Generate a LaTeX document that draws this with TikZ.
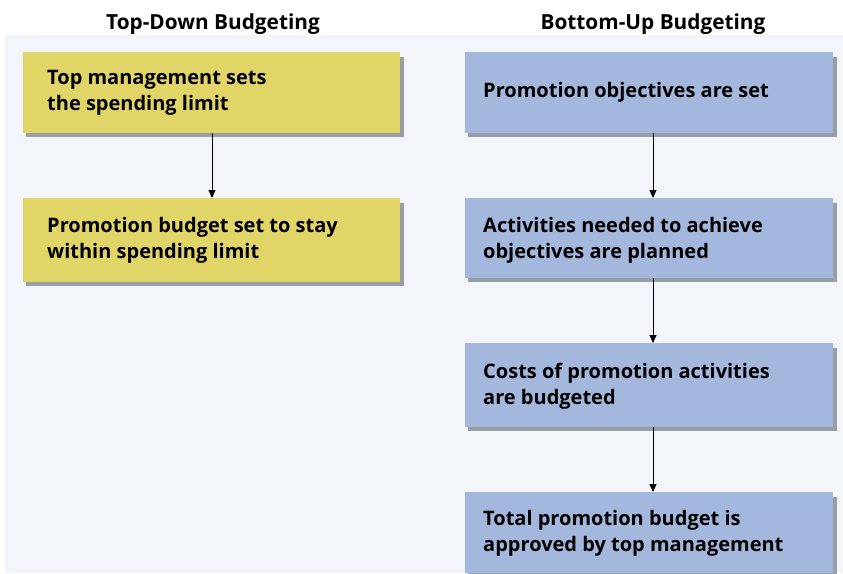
\documentclass[tikz,border=0pt]{standalone}
\usepackage{fontspec}
\setmainfont{Open Sans}
\usetikzlibrary{arrows.meta}
\definecolor{panel}{HTML}{F2F5F9}
\definecolor{yellowbox}{HTML}{E2D567}
\definecolor{bluebox}{HTML}{A4B7DC}
\definecolor{shadowc}{HTML}{5E6470}
\tikzset{
  boxtext/.style={font=\fontsize{20}{26}\selectfont\bfseries, align=left, anchor=west, inner sep=0pt},
  heading/.style={font=\fontsize{20.8}{24}\selectfont\bfseries, inner sep=0pt, anchor=base},
  arr/.style={-{Triangle[length=8pt,width=7pt]}, line width=0.9pt, black},
}
\begin{document}
\begin{tikzpicture}[x=1pt,y=-1pt]
\useasboundingbox (0,0) rectangle (843,573);
\fill[white] (0,0) rectangle (843,573);
\fill[panel] (5,35) rectangle (843,573);
% headings
\node[heading] (h1) at (213,29.5) {Top-Down Budgeting};
\node[heading] (h2) at (653,29.5) {Bottom-Up Budgeting};
% shadows
\foreach \a/\b/\c/\d in {23/52/400/133, 23/198/400/282, 465/52/833/133, 465/198/833/278, 465/343/833/427, 465/492/833/573}{
  \fill[shadowc, opacity=0.6] (\a+3,\b+5) rectangle (\c+4,\d+4);
}
% boxes
\fill[yellowbox] (23,52) rectangle (400,133);
\fill[yellowbox] (23,198) rectangle (400,282);
\fill[bluebox] (465,52) rectangle (833,133);
\fill[bluebox] (465,198) rectangle (833,278);
\fill[bluebox] (465,343) rectangle (833,427);
\fill[bluebox] (465,492) rectangle (833,573);
% texts
\node[boxtext] (l1) at (47,92.5) {Top management sets\\the spending limit};
\node[boxtext] (l2) at (47,240) {Promotion budget set to stay\\within spending limit};
\node[boxtext] (r1) at (483,92.5) {Promotion objectives are set};
\node[boxtext] (r2) at (483,240) {Activities needed to achieve\\objectives are planned};
\node[boxtext] (r3) at (483,386) {Costs of promotion activities\\are budgeted};
\node[boxtext] (r4) at (483,533) {Total promotion budget is\\approved by top management};
% connector anchors
\coordinate (la) at (212,133);
\coordinate (lb) at (212,198);
\coordinate (ra) at (653,133);
\coordinate (rb) at (653,198);
\coordinate (rc) at (653,278);
\coordinate (rd) at (653,343);
\coordinate (re) at (653,427);
\coordinate (rf) at (653,492);
\draw[arr] (la) -- (lb);
\draw[arr] (ra) -- (rb);
\draw[arr] (rc) -- (rd);
\draw[arr] (re) -- (rf);
\end{tikzpicture}
\end{document}
